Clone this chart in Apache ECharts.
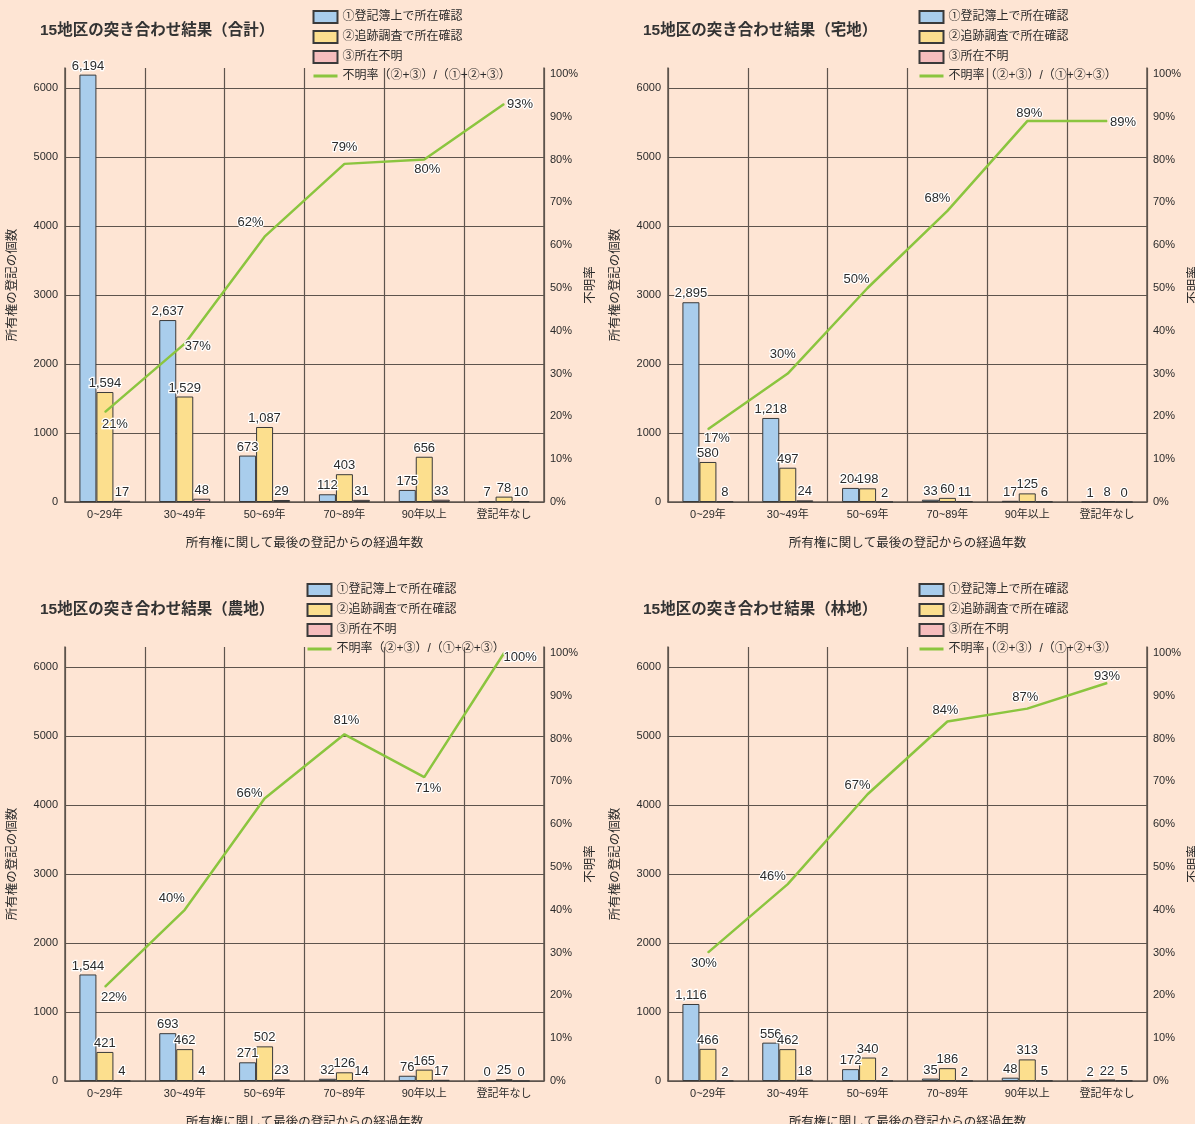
<!DOCTYPE html>
<html>
<head>
<meta charset="utf-8">
<script src="https://cdn.jsdelivr.net/npm/echarts@6/dist/echarts.min.js"></script>
<style>
  html, body { margin: 0; padding: 0; background: #FEE5D4; }
  #chart { width: 1195px; height: 1124px; }
</style>
</head>
<body>
<div id="chart"></div>
<script>
// Age bands since the last ownership registration
const categories = ['0~29年', '30~49年', '50~69年', '70~89年', '90年以上', '登記年なし'];

const seriesNames = ['①登記簿上で所在確認', '②追跡調査で所在確認', '③所在不明', '不明率（②+③）/（①+②+③）'];

const panelTitles = [
  '15地区の突き合わせ結果（合計）',
  '15地区の突き合わせ結果（宅地）',
  '15地区の突き合わせ結果（農地）',
  '15地区の突き合わせ結果（林地）'
];

// 合計
const totalRegistry = [6194, 2637, 673, 112, 175, 7];
const totalTraced   = [1594, 1529, 1087, 403, 656, 78];
const totalUnknown  = [17, 48, 29, 31, 33, 10];
const totalRate     = [21, 37, 62, 79, 80, 93];

// 宅地
const residentialRegistry = [2895, 1218, 204, 33, 17, 1];
const residentialTraced   = [580, 497, 198, 60, 125, 8];
const residentialUnknown  = [8, 24, 2, 11, 6, 0];
const residentialRate     = [17, 30, 50, 68, 89, 89];

// 農地
const farmRegistry = [1544, 693, 271, 32, 76, 0];
const farmTraced   = [421, 462, 502, 126, 165, 25];
const farmUnknown  = [4, 4, 23, 14, 17, 0];
const farmRate     = [22, 40, 66, 81, 71, 100];

// 林地
const forestRegistry = [1116, 556, 172, 35, 48, 2];
const forestTraced   = [466, 462, 340, 186, 313, 22];
const forestUnknown  = [2, 18, 2, 2, 5, 5];
const forestRate     = [30, 46, 67, 84, 87, 93];

const leftTicks = [0, 1000, 2000, 3000, 4000, 5000, 6000];

// Per-panel placement of the rate labels relative to each line vertex [dx, dy]
const rateLabelOffsets = [
  [[10, 12], [13, 3], [-14, -14], [0, -16], [3, 10], [16, 0]],
  [[9, 9], [-5, -19], [-11, -9], [-10, -13], [2, -8], [16, 1]],
  [[9, 11], [-13, -11], [-15, -5], [2, -14], [4, 11], [16, 4]],
  [[-4, 11], [-15, -8], [-10, -9], [-2, -11], [-2, -11], [0, -7]]
];

const panels = [
  { registry: totalRegistry, traced: totalTraced, unknown: totalUnknown, rate: totalRate },
  { registry: residentialRegistry, traced: residentialTraced, unknown: residentialUnknown, rate: residentialRate },
  { registry: farmRegistry, traced: farmTraced, unknown: farmUnknown, rate: farmRate },
  { registry: forestRegistry, traced: forestTraced, unknown: forestUnknown, rate: forestRate }
];

const layout = [
  { left: 65,  top: 68,  titleX: 40,  titleY: 23,  legendX: 312, legendY: 10 },
  { left: 668, top: 68,  titleX: 643, titleY: 23,  legendX: 918, legendY: 10 },
  { left: 65,  top: 647, titleX: 40,  titleY: 602, legendX: 306, legendY: 583 },
  { left: 668, top: 647, titleX: 643, titleY: 602, legendX: 918, legendY: 583 }
];

const FONT = '"Liberation Sans", "Noto Sans CJK JP", sans-serif';
const GRID_W = 479, GRID_H = 434;
const LINE_COLOR = '#5e544d';
const TEXT = '#2b2b2b';
const colors = ['#A9CDEC', '#FCDF8E', '#F6BDBD', '#8BC53F'];

const haloLabel = {
  color: TEXT, fontSize: 13, fontFamily: FONT,
  textBorderColor: '#ffffff', textBorderWidth: 2.5
};

const legendData = [
  { name: seriesNames[0], icon: 'rect' },
  { name: seriesNames[1], icon: 'rect' },
  { name: seriesNames[2], icon: 'rect' },
  { name: seriesNames[3], itemStyle: { opacity: 0 }, lineStyle: { width: 3 } }
];

const option = {
  backgroundColor: '#FEE5D4',
  animation: false,
  textStyle: { fontFamily: FONT },
  title: [], legend: [], grid: [], xAxis: [], yAxis: [], series: []
};

panels.forEach((p, i) => {
  const L = layout[i];
  option.title.push({
    text: panelTitles[i], left: L.titleX, top: L.titleY, padding: 0,
    textStyle: { fontSize: 15.5, fontWeight: 'bold', color: '#333', fontFamily: FONT }
  });
  option.legend.push({
    orient: 'vertical', left: L.legendX, top: L.legendY,
    itemWidth: 24, itemHeight: 12, itemGap: 6, padding: 0,
    textStyle: { fontSize: 12, color: TEXT, fontFamily: FONT },
    data: legendData
  });
  option.grid.push({ left: L.left, top: L.top, width: GRID_W, height: GRID_H, outerBoundsMode: 'none' });
  option.xAxis.push({
    type: 'category', gridIndex: i, data: categories, boundaryGap: true,
    name: '所有権に関して最後の登記からの経過年数', nameLocation: 'middle', nameGap: 35,
    nameTextStyle: { fontSize: 12.5, color: TEXT },
    axisLine: { show: true, lineStyle: { color: LINE_COLOR, width: 1.5 } },
    axisTick: { show: false },
    axisLabel: { fontSize: 11, color: TEXT, margin: 7, interval: 0 },
    splitLine: { show: true, interval: 0, lineStyle: { color: LINE_COLOR, width: 1.2 } }
  });
  option.yAxis.push({
    type: 'value', gridIndex: i, min: 0, max: 6290, interval: 1000,
    name: '所有権の登記の個数', nameLocation: 'middle', nameGap: 46,
    nameTextStyle: { fontSize: 12.5, color: TEXT },
    axisLine: { show: true, lineStyle: { color: LINE_COLOR, width: 1.5 } },
    axisTick: { show: false },
    axisLabel: { fontSize: 11, color: TEXT, margin: 7, showMaxLabel: false,
      formatter: v => (leftTicks.indexOf(v) >= 0 ? String(v) : '') },
    splitLine: { show: true, showMaxLine: false, lineStyle: { color: LINE_COLOR, width: 1.2 } }
  });
  option.yAxis.push({
    type: 'value', gridIndex: i, position: 'right', min: 0, max: 101.4, interval: 10,
    name: '不明率', nameLocation: 'middle', nameGap: 40,
    nameTextStyle: { fontSize: 12.5, color: TEXT },
    axisLine: { show: true, lineStyle: { color: LINE_COLOR, width: 1.5 } },
    axisTick: { show: false },
    axisLabel: { fontSize: 11, color: TEXT, margin: 6, showMaxLabel: false,
      formatter: v => (v % 10 === 0 ? v + '%' : '') },
    splitLine: { show: false }
  });

  const barSets = [p.registry, p.traced, p.unknown];
  barSets.forEach((vals, k) => {
    option.series.push({
      name: seriesNames[k], type: 'bar', xAxisIndex: i, yAxisIndex: i * 2,
      data: vals, barWidth: 17, barGap: '0%',
      itemStyle: { color: colors[k], borderColor: '#3a3a3a', borderWidth: 1 },
      label: Object.assign({ show: true, position: 'top', distance: 2,
        formatter: q => q.value.toLocaleString('en-US') }, haloLabel),
      z: 3
    });
  });

  option.series.push({
    name: seriesNames[3], type: 'line', xAxisIndex: i, yAxisIndex: i * 2 + 1,
    data: p.rate.map((v, j) => ({
      value: v,
      label: { offset: rateLabelOffsets[i][j] }
    })),
    symbol: 'circle', symbolSize: 1, showSymbol: true,
    lineStyle: { color: colors[3], width: 2.5 },
    itemStyle: { color: colors[3] },
    label: Object.assign({ show: true, position: 'inside', formatter: '{c}%' }, haloLabel),
    z: 5
  });
});

const chart = echarts.init(document.getElementById('chart'), null, { renderer: 'canvas' });
chart.setOption(option);
</script>
</body>
</html>
